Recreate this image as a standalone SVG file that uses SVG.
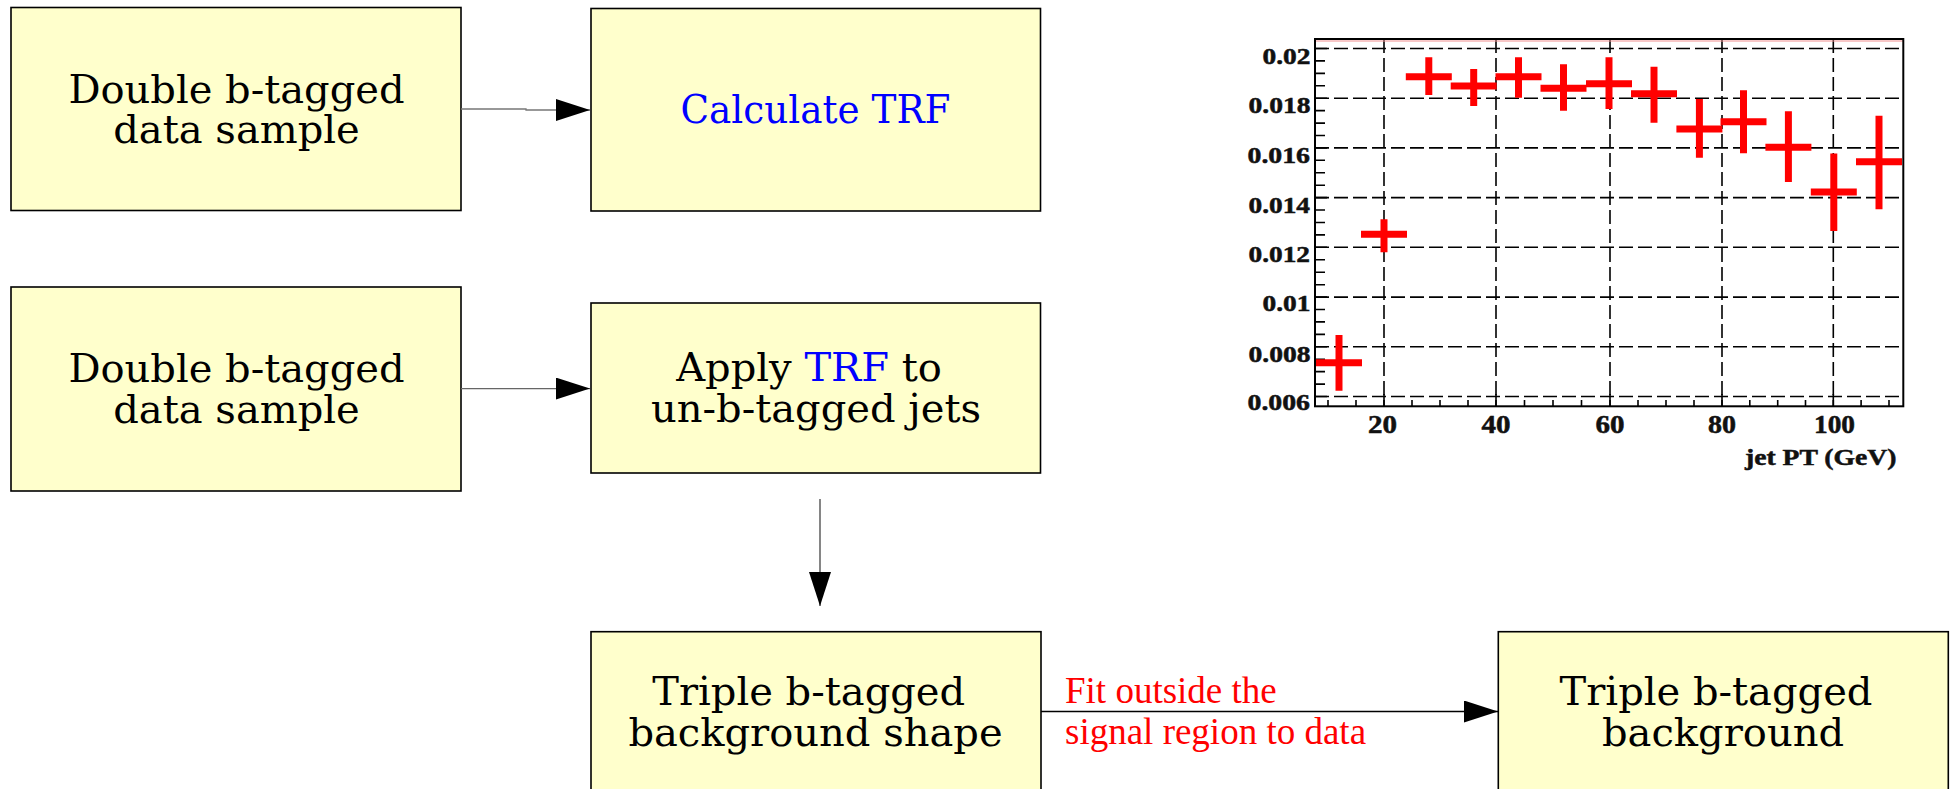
<svg xmlns="http://www.w3.org/2000/svg" width="1950" height="789" viewBox="0 0 1950 789">
<style>
.box{fill:#ffffcc;stroke:#000;stroke-width:1.6}
.t{font-family:"DejaVu Serif",serif;font-size:40px;text-anchor:middle;fill:#000}
.blue{fill:#0000ff}
.edge{fill:none;stroke:#333;stroke-width:1.3}
.elbl{font-family:"Liberation Serif",serif;font-size:37px;fill:#ff0000}
.grid{stroke:#000;stroke-width:1.6;stroke-dasharray:14 5;fill:none}
.tick{stroke:#000;stroke-width:1.6}
.ax{font-family:"Liberation Serif",serif;font-weight:bold;font-size:23px;fill:#111;stroke:#111;stroke-width:0.5}
.axx{font-family:"Liberation Serif",serif;font-weight:bold;font-size:24.5px;fill:#111;stroke:#111;stroke-width:0.5}
.pt{stroke:#ff0000;stroke-width:7;fill:none}
</style>
<defs>
<marker id="ah" markerWidth="34" markerHeight="22" refX="34" refY="11" orient="auto" markerUnits="userSpaceOnUse"><path d="M0,0 L34,11 L0,22 z" fill="#000"/></marker>
<clipPath id="pc"><rect x="1315" y="39" width="588.3" height="367.3"/></clipPath>
</defs>
<rect width="1950" height="789" fill="#fff"/>

<g id="n1"><rect class="box" x="11" y="7.5" width="450" height="203"/><text class="t" x="236.5" y="102.5">Double b-tagged</text><text class="t" x="236.5" y="143">data sample</text></g>
<g id="n2"><rect class="box" x="591" y="8.5" width="449.5" height="202.5"/><text class="t blue" x="680.5" y="123" style="text-anchor:start" textLength="270" lengthAdjust="spacingAndGlyphs">Calculate TRF</text></g>
<g id="n3"><rect class="box" x="11" y="287" width="450" height="204"/><text class="t" x="236.5" y="382">Double b-tagged</text><text class="t" x="236.5" y="423">data sample</text></g>
<g id="n4"><rect class="box" x="591" y="303" width="449.5" height="170"/><text class="t" x="809" y="381">Apply <tspan class="blue">TRF</tspan> to</text><text class="t" x="816" y="422">un-b-tagged jets</text></g>
<g id="n5"><rect class="box" x="591" y="631.7" width="450" height="200"/><text class="t" x="808.7" y="705">Triple b-tagged</text><text class="t" x="815.5" y="746">background shape</text></g>
<g id="n6"><rect class="box" x="1498.3" y="631.7" width="450" height="200"/><text class="t" x="1716" y="705">Triple b-tagged</text><text class="t" x="1723" y="746">background</text></g>

<g id="connectors">
<path class="edge" d="M461,109 H526 V110 H590" marker-end="url(#ah)" style="stroke:#777"/>
<path class="edge" d="M461,388.6 H590" marker-end="url(#ah)" style="stroke:#666"/>
<path class="edge" d="M820,499 V606" marker-end="url(#ah)" style="stroke:#444"/>
<path class="edge" d="M1041,711.5 H1498" marker-end="url(#ah)" style="stroke:#000"/>
<text class="elbl" x="1065" y="703.3">Fit outside the</text>
<text class="elbl" x="1065" y="743.5">signal region to data</text>
</g>

<g id="plot">
<g class="grid">
<path d="M1315,48.5 H1903 M1315,98.2 H1903 M1315,147.9 H1903 M1315,197.6 H1903 M1315,247.3 H1903 M1315,297.1 H1903 M1315,346.8 H1903 M1315,396.5 H1903"/>
<path d="M1384,39 V406 M1496,39 V406 M1610,39 V406 M1722,39 V406 M1833.3,39 V406"/>
</g>
<g class="tick">
<path d="M1315,48.5 h12 M1315,98.2 h12 M1315,147.9 h12 M1315,197.6 h12 M1315,247.3 h12 M1315,297.1 h12 M1315,346.8 h12 M1315,396.5 h12"/>
<path d="M1315,60.9 h10 M1315,73.4 h10 M1315,85.8 h10 M1315,110.6 h10 M1315,123.1 h10 M1315,135.5 h10 M1315,160.3 h10 M1315,172.8 h10 M1315,185.2 h10 M1315,210 h10 M1315,222.5 h10 M1315,234.9 h10 M1315,259.7 h10 M1315,272.2 h10 M1315,284.7 h10 M1315,309.5 h10 M1315,321.9 h10 M1315,334.4 h10 M1315,359.2 h10 M1315,371.6 h10 M1315,384.1 h10"/>
<path d="M1384,406 v-12 M1496,406 v-12 M1610,406 v-12 M1722,406 v-12 M1833.3,406 v-12"/>
<path d="M1328,406 v-6 M1356,406 v-6 M1412,406 v-6 M1440,406 v-6 M1468,406 v-6 M1524.5,406 v-6 M1553,406 v-6 M1581.5,406 v-6 M1638,406 v-6 M1666,406 v-6 M1694,406 v-6 M1749.8,406 v-6 M1777.7,406 v-6 M1805.5,406 v-6 M1861.1,406 v-6 M1889,406 v-6"/>
</g>
<line x1="1315" y1="41" x2="1903" y2="41" stroke="#f09090" stroke-width="1"/>
<rect x="1315" y="39" width="588.3" height="367.3" fill="none" stroke="#000" stroke-width="2"/>
<g clip-path="url(#pc)" class="pt">
<path d="M1316,362.7 H1362 M1339,335 V390.7"/>
<path d="M1361,234.3 H1407 M1384,219.3 V252.3"/>
<path d="M1405.8,76.7 H1451.8 M1428.8,57.3 V95"/>
<path d="M1450.7,86 H1496.7 M1473.7,69 V106"/>
<path d="M1495.5,76.7 H1541.5 M1518.5,57.3 V97.7"/>
<path d="M1540.5,88.3 H1586.5 M1563.5,64.3 V110.7"/>
<path d="M1586,83.7 H1632 M1609,57.3 V109"/>
<path d="M1631,93.7 H1677 M1654,66.7 V122.7"/>
<path d="M1676.4,129 H1722.4 M1699.4,99 V157.7"/>
<path d="M1720.5,121.7 H1766.5 M1743.5,90.3 V153.3"/>
<path d="M1765.4,147.3 H1811.4 M1788.4,111.3 V182"/>
<path d="M1810.8,192 H1856.8 M1833.8,153.5 V231"/>
<path d="M1856,161.7 H1902 M1879,115.7 V209.3"/>
</g>
<text class="ax" x="1262.5" y="64" textLength="48" lengthAdjust="spacingAndGlyphs">0.02</text>
<text class="ax" x="1248.5" y="113.3" textLength="62" lengthAdjust="spacingAndGlyphs">0.018</text>
<text class="ax" x="1247.5" y="163" textLength="62.5" lengthAdjust="spacingAndGlyphs">0.016</text>
<text class="ax" x="1248.5" y="212.7" textLength="61.5" lengthAdjust="spacingAndGlyphs">0.014</text>
<text class="ax" x="1248.5" y="261.7" textLength="61.5" lengthAdjust="spacingAndGlyphs">0.012</text>
<text class="ax" x="1262.5" y="311" textLength="48" lengthAdjust="spacingAndGlyphs">0.01</text>
<text class="ax" x="1248.5" y="361.7" textLength="62" lengthAdjust="spacingAndGlyphs">0.008</text>
<text class="ax" x="1247.5" y="410" textLength="62.5" lengthAdjust="spacingAndGlyphs">0.006</text>
<text class="axx" x="1368" y="433.3" textLength="29" lengthAdjust="spacingAndGlyphs">20</text>
<text class="axx" x="1481.5" y="433.3" textLength="29" lengthAdjust="spacingAndGlyphs">40</text>
<text class="axx" x="1595.5" y="433.3" textLength="29" lengthAdjust="spacingAndGlyphs">60</text>
<text class="axx" x="1708" y="433.3" textLength="28" lengthAdjust="spacingAndGlyphs">80</text>
<text class="axx" x="1814" y="433.3" textLength="41" lengthAdjust="spacingAndGlyphs">100</text>
<text class="ax" x="1745" y="465" textLength="151.5" lengthAdjust="spacingAndGlyphs">jet PT (GeV)</text>
</g>
</svg>
